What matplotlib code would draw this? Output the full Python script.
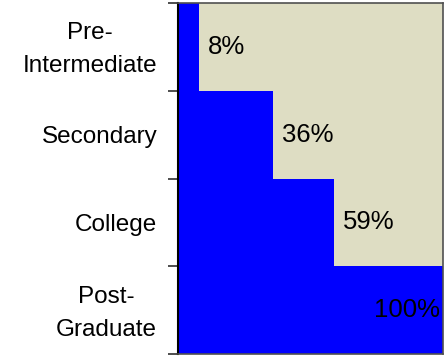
import matplotlib
matplotlib.use("Agg")
import matplotlib.pyplot as plt
import numpy as np

categories = ["Pre-\nIntermediate", "Secondary", "College", "Post-\nGraduate"]
values = [8, 36, 59, 100]
value_labels = ["8%", "36%", "59%", "100%"]

plt.rcParams["font.family"] = ["Liberation Sans", "DejaVu Sans"]

fig = plt.figure(figsize=(4.46, 3.58), dpi=100)
ax = fig.add_axes([178 / 446, 1 - 354 / 358, (443 - 178) / 446, (354 - 3) / 358])
ax.set_facecolor("#DEDDC3")

y = np.arange(len(categories))
ax.barh(y, values, height=1.0, color="#0000FF", edgecolor="none")

ax.set_xlim(0, 100)
ax.set_ylim(len(categories) - 0.5, -0.5)
ax.set_xticks([])

# tick marks sit on the category boundaries
ax.set_yticks(np.arange(len(categories) + 1) - 0.5)
ax.set_yticklabels([])
ax.tick_params(axis="y", which="major", length=7, width=1.2, color="#303030")

# category names, right-aligned to the left of the axis, centred line by line
for yi, name in zip(y, categories):
    multi = "\n" in name
    ax.annotate(name, (0, yi), xycoords=("axes fraction", "data"),
                xytext=(-15, -2.2 if multi else 0), textcoords="offset points",
                ha="right", va="center" if multi else "center_baseline",
                multialignment="center", linespacing=1.65, fontsize=17.5,
                color="#000000", annotation_clip=False)

for side in ["top", "right", "bottom"]:
    ax.spines[side].set_color("#505050")
    ax.spines[side].set_linewidth(1.2)
ax.spines["left"].set_color("#000000")
ax.spines["left"].set_linewidth(1.5)

vmax = max(values)
for yi, v, txt in zip(y, values, value_labels):
    if v >= vmax:
        ax.annotate(txt, (v, yi), xytext=(-2, 0), textcoords="offset points",
                    ha="right", va="center", fontsize=18.5, color="#000000")
    else:
        ax.annotate(txt, (v, yi), xytext=(6, 0), textcoords="offset points",
                    ha="left", va="center", fontsize=18.5, color="#000000")

fig.savefig("out.png", dpi=100)
